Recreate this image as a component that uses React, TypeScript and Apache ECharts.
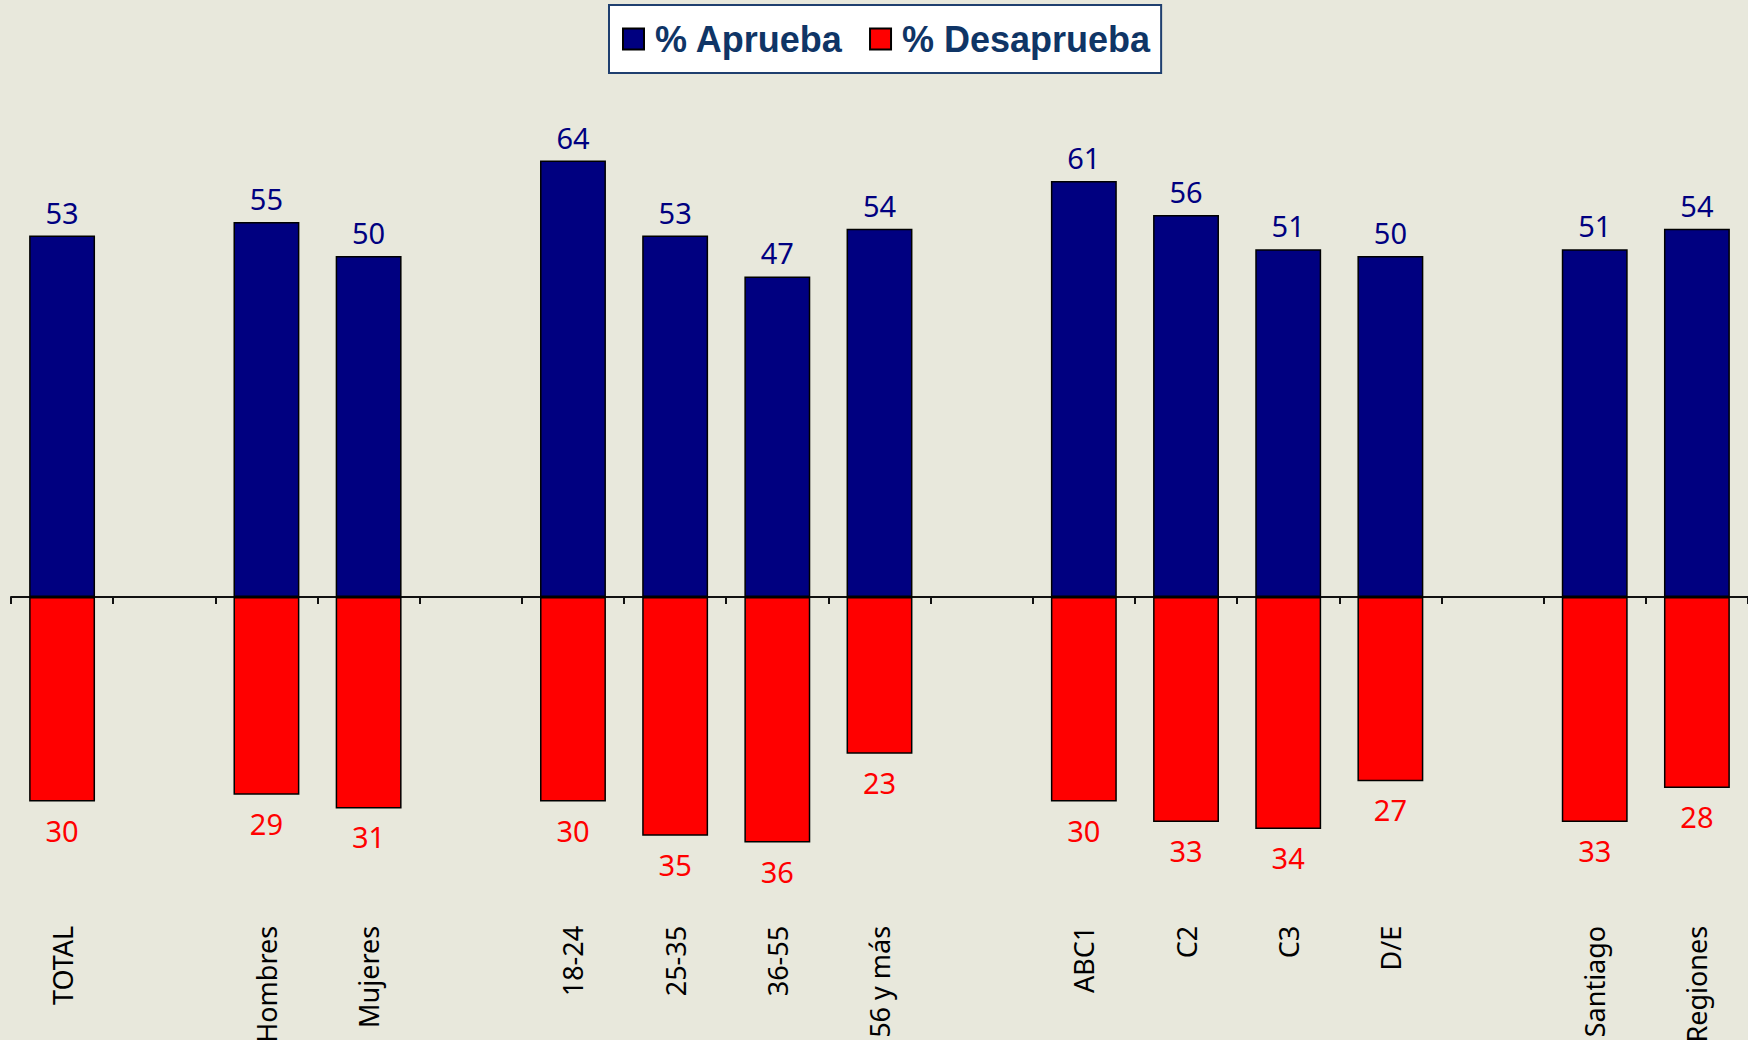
import React, { useEffect, useRef } from 'react';
import * as echarts from 'echarts';

const categories = ['TOTAL', '', 'Hombres', 'Mujeres', '', '18-24', '25-35', '36-55', '56 y más', '', 'ABC1', 'C2', 'C3', 'D/E', '', 'Santiago', 'Regiones'];
const aprueba = [53, null, 55, 50, null, 64, 53, 47, 54, null, 61, 56, 51, 50, null, 51, 54];
const desaprueba = [30, null, 29, 31, null, 30, 35, 36, 23, null, 30, 33, 34, 27, null, 33, 28];
const seriesNames = ['% Aprueba', '% Desaprueba'];

const BG = '#E8E8DC';
const LABEL_FONT = 'Noto Sans';

export default function App() {
  const ref = useRef<HTMLDivElement>(null);

  useEffect(() => {
    document.body.style.margin = '0';
    if (!ref.current) return;
    const chart = echarts.init(ref.current, undefined, { renderer: 'svg' });
    chart.setOption({
      animation: false,
      backgroundColor: BG,
      legend: {
        left: 609,
        top: 5,
        orient: 'horizontal',
        backgroundColor: '#FFFFFF',
        borderColor: '#1F3F6F',
        borderWidth: 2,
        borderRadius: 0,
        padding: [16, 11, 16, 13],
        itemWidth: 21,
        itemHeight: 21,
        itemGap: 26,
        icon: 'rect',
        data: seriesNames,
        textStyle: {
          fontSize: 36,
          fontWeight: 'bold',
          color: '#0F3566',
          fontFamily: 'Liberation Sans',
          padding: [0, 0, 0, 6],
        },
      },
      grid: {
        left: 11,
        right: 0,
        top: 119.6,
        bottom: 170.2,
        containLabel: false,
        outerBoundsMode: 'none',
      },
      xAxis: [
        {
          type: 'category',
          data: categories,
          position: 'bottom',
          boundaryGap: true,
          axisLine: { show: true, onZero: true, lineStyle: { color: '#111', width: 2 } },
          axisTick: { show: true, length: 7, lineStyle: { color: '#111', width: 2 } },
          axisLabel: { show: false },
          splitLine: { show: false },
        },
        {
          type: 'category',
          data: categories,
          position: 'bottom',
          boundaryGap: true,
          axisLine: { show: false, onZero: false },
          axisTick: { show: false },
          splitLine: { show: false },
          axisLabel: {
            show: true,
            rotate: 90,
            margin: 56,
            interval: 0,
            fontSize: 27,
            color: '#000',
            fontFamily: LABEL_FONT,
          },
        },
      ],
      yAxis: {
        type: 'value',
        min: -40,
        max: 70,
        interval: 10,
        show: false,
        splitLine: { show: false },
      },
      series: [
        {
          name: seriesNames[0],
          type: 'bar',
          xAxisIndex: 0,
          data: aprueba,
          barWidth: '64.5%',
          barGap: '-100%',
          itemStyle: { color: '#000080', borderColor: '#000', borderWidth: 1.5 },
          label: {
            show: true,
            position: 'top',
            distance: 9,
            color: '#000080',
            fontSize: 29,
            fontFamily: LABEL_FONT,
          },
        },
        {
          name: seriesNames[1],
          type: 'bar',
          xAxisIndex: 0,
          data: desaprueba.map((v) => (v == null ? null : -v)),
          barWidth: '64.5%',
          barGap: '-100%',
          itemStyle: { color: '#FF0000', borderColor: '#000', borderWidth: 1.5 },
          label: {
            show: true,
            position: 'bottom',
            distance: 14,
            color: '#FF0000',
            fontSize: 29,
            fontFamily: LABEL_FONT,
            formatter: (p: any) => String(Math.abs(p.value)),
          },
        },
      ],
    });
    return () => chart.dispose();
  }, []);

  return (
    <div
      ref={ref}
      style={{ position: 'absolute', left: 0, top: 0, width: 1748, height: 1040, background: BG }}
    />
  );
}
